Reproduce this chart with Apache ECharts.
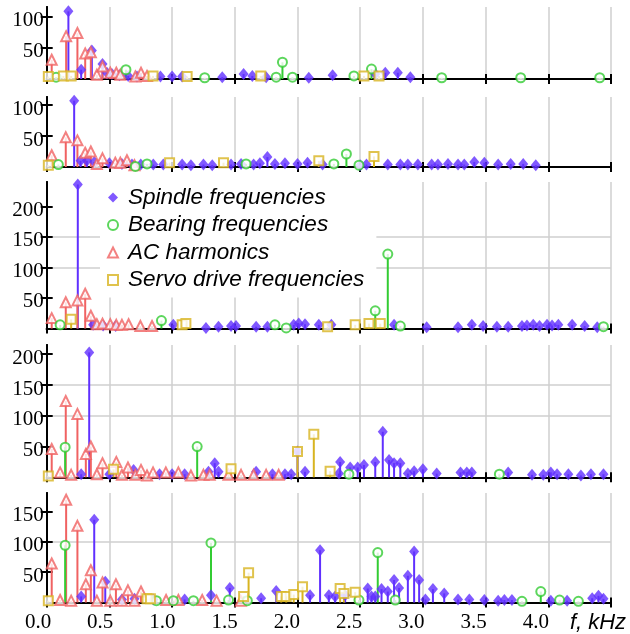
<!DOCTYPE html>
<html>
<head>
<meta charset="utf-8">
<script src="https://cdn.jsdelivr.net/npm/echarts@6/dist/echarts.min.js"></script>
<style>html,body{margin:0;padding:0;background:#fff}#main{width:630px;height:634px}</style>
</head>
<body>
<div id="main"></div>
<script>
// f in kHz, amplitude
var p1Spindle = [[0.173,109],[0.275,15],[0.36,46],[0.445,24],[0.48,10],[0.52,8],[0.58,6],[0.65,5],[0.72,4],[0.907,4],[1.0,4],[1.08,4],[1.4,3],[1.57,8],[1.64,5],[1.75,3],[2.09,2],[2.28,6],[2.62,8],[2.70,10],[2.80,10],[2.90,3]];
var p1Bearing = [[0.075,3],[0.632,15],[1.26,2],[1.83,3],[1.88,27],[1.96,3],[2.45,5],[2.59,16],[3.15,2],[3.78,2],[4.41,2]];
var p1Ac = [[0.04,31],[0.155,69],[0.245,74],[0.307,41],[0.352,43],[0.4,7],[0.445,20],[0.507,10],[0.555,10],[0.587,7],[0.707,4],[0.752,10],[0.8,5]];
var p1Servo = [[0.013,4],[0.133,5],[0.195,5],[0.848,5],[1.12,4],[1.707,5],[2.53,5],[2.65,5]];

var p2Spindle = [[0.219,107],[0.27,10],[0.32,10],[0.38,8],[0.5,6],[0.6,5],[0.68,4],[0.75,4],[0.85,4],[0.93,4],[1.08,4],[1.15,3],[1.25,4],[1.32,3],[1.47,4],[1.55,5],[1.65,4],[1.7,6],[1.76,16],[1.82,5],[1.9,6],[2.0,5],[2.08,7],[2.2,4],[2.5,3],[2.55,4],[2.72,4],[2.82,4],[2.88,4],[2.96,4],[3.07,4],[3.12,4],[3.2,5],[3.28,4],[3.33,4],[3.41,8],[3.49,7],[3.6,4],[3.7,5],[3.8,5],[3.9,3]];
var p2Bearing = [[0.093,4],[0.707,1],[0.8,5],[1.59,5],[2.29,5],[2.39,21],[2.49,3]];
var p2Ac = [[0.04,19],[0.152,48],[0.245,43],[0.307,23],[0.352,25],[0.4,5],[0.445,14],[0.547,7],[0.587,7],[0.64,11],[0.7,3]];
var p2Servo = [[0.013,3],[0.98,7],[1.41,7],[2.17,10],[2.61,17]];

var p3Spindle = [[0.248,236],[0.37,6],[0.45,5],[0.55,4],[1.01,6],[1.27,1],[1.37,3],[1.47,4],[1.51,4],[1.67,3],[1.76,3],[1.97,6],[2.01,8],[2.06,7],[2.17,6],[2.27,6],[2.77,6],[3.03,2],[3.28,2],[3.39,6],[3.48,4],[3.59,3],[3.68,3],[3.79,4],[3.83,5],[3.88,6],[3.93,4],[3.99,6],[4.03,5],[4.08,6],[4.19,6],[4.29,4],[4.39,2]];
var p3Bearing = [[0.107,6],[0.915,13],[1.82,6],[1.91,1],[2.62,29],[2.72,122],[2.82,4],[4.44,3]];
var p3Ac = [[0.04,17],[0.152,43],[0.245,46],[0.307,57],[0.352,21],[0.4,7],[0.445,8],[0.507,7],[0.555,6],[0.6,6],[0.653,7],[0.747,4],[0.84,4]];
var p3Servo = [[0.195,15],[1.08,6],[1.11,8],[2.24,3],[2.46,6],[2.57,8],[2.66,8]];

var p4Spindle = [[0.275,5],[0.339,203],[0.5,5],[0.693,12],[0.9,5],[1.0,5],[1.1,5],[1.29,9],[1.34,23],[1.37,9],[1.67,9],[1.8,5],[1.9,5],[1.95,5],[2.0,42],[2.06,9],[2.33,6],[2.34,25],[2.42,16],[2.48,16],[2.53,20],[2.62,25],[2.68,74],[2.73,28],[2.77,23],[2.82,23],[2.88,6],[2.93,10],[3.0,13],[3.11,6],[3.30,8],[3.35,8],[3.39,8],[3.68,8],[3.87,4],[3.96,4],[4.02,8],[4.07,5],[4.16,5],[4.26,3],[4.34,5],[4.44,5]];
var p4Bearing = [[0.147,49],[1.2,50],[2.41,5],[3.61,5]];
var p4Ac = [[0.04,46],[0.107,8],[0.152,124],[0.195,4],[0.245,103],[0.312,38],[0.352,50],[0.4,5],[0.445,23],[0.555,25],[0.6,4],[0.648,16],[0.707,4],[0.752,12],[0.8,3],[0.848,8],[0.95,8],[1.05,8],[1.15,3],[1.25,4],[1.3,4],[1.45,4],[1.55,4],[1.65,4],[1.75,4],[1.85,4]];
var p4Servo = [[0.013,2],[0.533,13],[1.47,14],[2.0,42],[2.13,70],[2.26,10]];

var p5Spindle = [[0.275,10],[0.379,136],[0.467,34],[0.6,5],[0.7,6],[0.85,5],[1.1,5],[1.31,12],[1.46,24],[1.71,7],[1.83,19],[2.1,12],[2.18,86],[2.25,12],[2.3,10],[2.38,12],[2.56,23],[2.59,10],[2.62,10],[2.67,22],[2.72,18],[2.77,37],[2.81,24],[2.88,44],[2.93,84],[2.97,37],[3.02,5],[3.08,22],[3.17,15],[3.28,5],[3.37,5],[3.49,4],[3.6,3],[3.65,4],[3.71,4],[4.02,3],[4.15,3],[4.35,7],[4.40,11],[4.44,6]];
var p5Bearing = [[0.147,94],[0.875,3],[1.01,3],[1.17,3],[1.31,98],[1.45,4],[1.6,3],[2.49,4],[2.64,82],[2.78,4],[3.79,2],[3.94,18],[4.09,4],[4.24,2]];
var p5Ac = [[0.04,64],[0.107,4],[0.155,169],[0.195,3],[0.245,126],[0.312,30],[0.352,53],[0.4,3],[0.445,33],[0.507,3],[0.552,30],[0.6,3],[0.648,20],[0.7,3],[0.752,18],[0.952,4],[1.05,4],[1.24,4],[1.355,3],[1.547,3]];
var p5Servo = [[0.013,3],[0.8,6],[0.827,6],[1.57,10],[1.61,49],[1.87,10],[1.91,10],[1.97,13],[2.04,26],[2.34,23],[2.37,15],[2.46,17]];

var seriesNames = ['Spindle frequencies', 'Bearing frequencies', 'AC harmonics', 'Servo drive frequencies'];
var yMax = [116, 113, 240, 215, 180];
var yTicks = [[50,100],[50,100],[50,100,150,200],[50,100,150,200],[50,100,150]];
var xTicks = [0,0.5,1.0,1.5,2.0,2.5,3.0,3.5,4.0,4.5];
var xUnit = 'f, kHz';

var panels = [
  [p1Spindle, p1Bearing, p1Ac, p1Servo],
  [p2Spindle, p2Bearing, p2Ac, p2Servo],
  [p3Spindle, p3Bearing, p3Ac, p3Servo],
  [p4Spindle, p4Bearing, p4Ac, p4Servo],
  [p5Spindle, p5Bearing, p5Ac, p5Servo]
];

// layout
var tops = [7, 97, 182, 345, 493];
var heights = [72, 70, 146.5, 132.3, 109.5];
var colors = ['#6030ff', '#33cc33', '#f06262', '#d8b420'];
var symbols = ['diamond', 'emptyCircle', 'emptyTriangle', 'emptyRect'];
var sizes = [[10,12], 9, 10, 9];
var drawOrder = [0, 2, 1, 3];

var grids = [], xAxes = [], yAxes = [], series = [];

function stemItem(color) {
  return function (params, api) {
    var base = api.coord([api.value(0), 0]);
    var top = api.coord([api.value(0), api.value(1)]);
    return {
      type: 'line',
      shape: {x1: base[0], y1: base[1], x2: top[0], y2: top[1]},
      style: {stroke: color, lineWidth: 2}
    };
  };
}

var black = {color: '#000', width: 2};
var gridLine = {color: '#cfcfcf', width: 1.5};

for (var i = 0; i < 5; i++) {
  grids.push({left: 46.7, width: 564.3, top: tops[i], height: heights[i]});
  // x axis: outer ticks + grid lines
  xAxes.push({
    gridIndex: i, type: 'value', min: 0, max: 4.5, interval: 0.5,
    axisLine: {show: true, onZero: false, lineStyle: black},
    axisTick: {show: true, inside: false, length: 5, lineStyle: black},
    axisLabel: {show: false},
    splitLine: {show: true, lineStyle: gridLine}
  });
  // x axis: inner ticks
  xAxes.push({
    gridIndex: i, type: 'value', min: 0, max: 4.5, interval: 0.5, position: 'bottom',
    axisLine: {show: true, onZero: false, lineStyle: black},
    axisTick: {show: true, inside: true, length: 5, lineStyle: black},
    axisLabel: {show: false}, splitLine: {show: false}
  });
  yAxes.push({
    gridIndex: i, type: 'value', min: 0, max: yMax[i], interval: 50,
    axisLine: {show: true, onZero: false, lineStyle: black},
    axisTick: {show: true, inside: false, length: 6, lineStyle: black, customValues: yTicks[i]},
    axisLabel: {
      margin: 3, customValues: yTicks[i],
      formatter: function (v) { return '{n|' + v + '}'; },
      rich: {n: {fontFamily: 'Liberation Serif', fontSize: 21, color: '#000', padding: [8, 0, 0, 0]}}
    },
    splitLine: {show: true, showMinLine: false, showMaxLine: false, lineStyle: gridLine}
  });
  yAxes.push({
    gridIndex: i, type: 'value', min: 0, max: yMax[i], interval: 50, position: 'left',
    axisLine: {show: true, onZero: false, lineStyle: black},
    axisTick: {show: true, inside: true, length: 6, lineStyle: black, customValues: yTicks[i]},
    axisLabel: {show: false}, splitLine: {show: false}
  });

  for (var k = 0; k < 4; k++) {
    var s = drawOrder[k];
    series.push({
      type: 'custom', coordinateSystem: 'cartesian2d',
      xAxisIndex: i * 2, yAxisIndex: i * 2, z: 2,
      renderItem: stemItem(colors[s]), data: panels[i][s], silent: true
    });
  }
  for (var k = 0; k < 4; k++) {
    var s = drawOrder[k];
    series.push({
      type: 'scatter', name: seriesNames[s],
      xAxisIndex: i * 2, yAxisIndex: i * 2, z: 3,
      symbol: symbols[s], symbolSize: sizes[s],
      itemStyle: {color: colors[s], borderWidth: s === 0 ? 0 : 2},
      data: panels[i][s]
    });
  }
}

// frequency labels under the bottom panel (slightly tighter spacing than the ticks, as in the original)
grids.push({left: 38, width: 560, top: tops[4], height: heights[4]});
xAxes.push({
  gridIndex: 5, type: 'value', min: 0, max: 4.5, interval: 0.5,
  axisLine: {show: false}, axisTick: {show: false}, splitLine: {show: false},
  axisLabel: {
    margin: 10, customValues: xTicks,
    fontFamily: 'Liberation Serif', fontSize: 21, color: '#000',
    formatter: function (v) {
      if (v > 4.4) return '{u|' + xUnit + '}';
      return v.toFixed(1);
    },
    rich: {u: {fontFamily: 'Liberation Sans', fontStyle: 'italic', fontSize: 22, color: '#000'}}
  }
});
yAxes.push({gridIndex: 5, type: 'value', min: 0, max: 1, show: false});

var myChart = echarts.init(document.getElementById('main'));
var option = {
  animation: false,
  backgroundColor: '#fff',
  grid: grids,
  xAxis: xAxes,
  yAxis: yAxes,
  legend: {
    orient: 'vertical', left: 100, top: 180,
    backgroundColor: '#fff', padding: [6, 12, 6, 7],
    itemWidth: 10, itemHeight: 10, itemGap: 4.5,
    formatter: function (name) { return '{t|' + name + '}'; },
    textStyle: {
      fontFamily: 'Liberation Sans', fontStyle: 'italic', fontSize: 22.5, color: '#000', lineHeight: 22,
      rich: {t: {fontFamily: 'Liberation Sans', fontStyle: 'italic', fontSize: 22.5, color: '#000', lineHeight: 22, padding: [0, 0, 0, 5]}}
    },
    data: [
      {name: seriesNames[0], icon: 'diamond'},
      {name: seriesNames[1], icon: 'emptyCircle'},
      {name: seriesNames[2], icon: 'emptyTriangle'},
      {name: seriesNames[3], icon: 'emptyRect'}
    ]
  },
  series: series
};
myChart.setOption(option);
</script>
</body>
</html>
